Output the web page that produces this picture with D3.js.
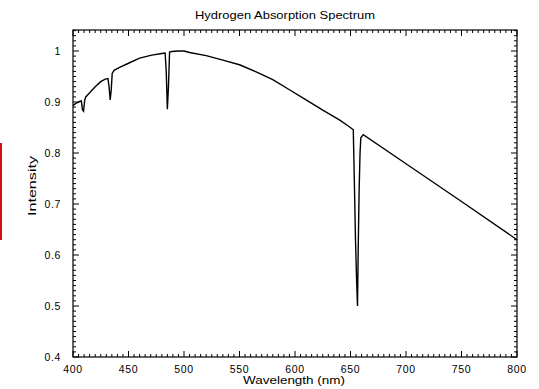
<!DOCTYPE html>
<html><head><meta charset="utf-8">
<script src="https://cdn.jsdelivr.net/npm/d3@7"></script>
<style>body{margin:0;background:#fff}svg{display:block}text{font-family:"Liberation Sans",Arial,sans-serif;fill:#000}</style>
</head><body>
<svg id="c" width="539" height="389"></svg>
<script>
const wavelength = [400,403,406,407.5,408.5,409.5,410.5,411.5,415,420,425,429,431.5,432.5,433.5,434.5,435.3,437,442,450,460,471,480,483,484,485,486,487,489,495,500,505,520,535,550,565,580,595,610,625,640,648,651,652.5,653.5,654.5,655.5,656.3,657,657.8,658.6,659.3,661.5,700,750,800];
const intensity  = [0.893,0.898,0.901,0.902,0.885,0.882,0.903,0.91,0.918,0.93,0.94,0.945,0.946,0.93,0.904,0.925,0.956,0.962,0.968,0.976,0.986,0.992,0.995,0.996,0.96,0.886,0.93,0.998,0.999,1.0,1.0,0.997,0.991,0.982,0.973,0.959,0.944,0.924,0.904,0.884,0.865,0.853,0.848,0.846,0.74,0.63,0.55,0.50,0.62,0.73,0.80,0.83,0.836,0.779,0.705,0.630];
const xTicks = [400,450,500,550,600,650,700,750,800];
const yTicks = [0.4,0.5,0.6,0.7,0.8,0.9,1];
const title = "Hydrogen Absorption Spectrum";
const xTitle = "Wavelength (nm)";
const yTitle = "Intensity";

const svg = d3.select("#c");
const L=73, R=517, T=30, B=357;
const x = d3.scaleLinear().domain([400,800]).range([L,R]);
const y = d3.scaleLinear().domain([0.4,1.0412]).range([B,T]);

// red side bar
svg.append("rect").attr("x",0).attr("y",143).attr("width",2).attr("height",97).attr("fill","#d0131b");

// frame
svg.append("rect").attr("x",L).attr("y",T).attr("width",R-L).attr("height",B-T)
  .attr("fill","none").attr("stroke","#000").attr("stroke-width",1.2);

const xMinor = d3.range(400,801,5);
const yMinor = d3.range(40,105,1).map(v=>v/100).filter(v=>v<=1.04);
const g = svg.append("g").attr("stroke","#000").attr("stroke-width",1);
xMinor.forEach(v=>{
  const major = v%50===0, len = major?6:3, px = x(v);
  g.append("line").attr("x1",px).attr("x2",px).attr("y1",B).attr("y2",B-len);
  g.append("line").attr("x1",px).attr("x2",px).attr("y1",T).attr("y2",T+len);
});
yMinor.forEach(v=>{
  const major = Math.abs(v*10-Math.round(v*10))<1e-6, len = major?6:3, py = y(v);
  g.append("line").attr("x1",L).attr("x2",L+len).attr("y1",py).attr("y2",py);
  g.append("line").attr("x1",R).attr("x2",R-len).attr("y1",py).attr("y2",py);
});

// tick labels
svg.append("g").selectAll("text").data(xTicks).join("text")
  .attr("x",d=>x(d)).attr("y",373).attr("text-anchor","middle")
  .attr("font-size",10.5).attr("letter-spacing",0.6).text(d=>d);
svg.append("g").selectAll("text").data(yTicks).join("text")
  .attr("x",61).attr("y",d=>y(d)+4).attr("text-anchor","end")
  .attr("font-size",10.5).attr("letter-spacing",0.6).text(d=>d);

// titles
svg.append("text").attr("x",285).attr("y",19).attr("text-anchor","middle")
  .attr("font-size",11.5).attr("textLength",180).attr("lengthAdjust","spacingAndGlyphs").text(title);
svg.append("text").attr("x",294).attr("y",384).attr("text-anchor","middle")
  .attr("font-size",11.5).attr("textLength",102).attr("lengthAdjust","spacingAndGlyphs").text(xTitle);
svg.append("text").attr("transform","translate(36,186) rotate(-90)").attr("text-anchor","middle")
  .attr("font-size",11.5).attr("textLength",60).attr("lengthAdjust","spacingAndGlyphs").text(yTitle);

// spectrum
const line = d3.line().x((d,i)=>x(wavelength[i])).y(d=>y(d));
svg.append("path").datum(intensity).attr("d",line)
  .attr("fill","none").attr("stroke","#000").attr("stroke-width",1.4).attr("stroke-linejoin","miter");
</script>
</body></html>
